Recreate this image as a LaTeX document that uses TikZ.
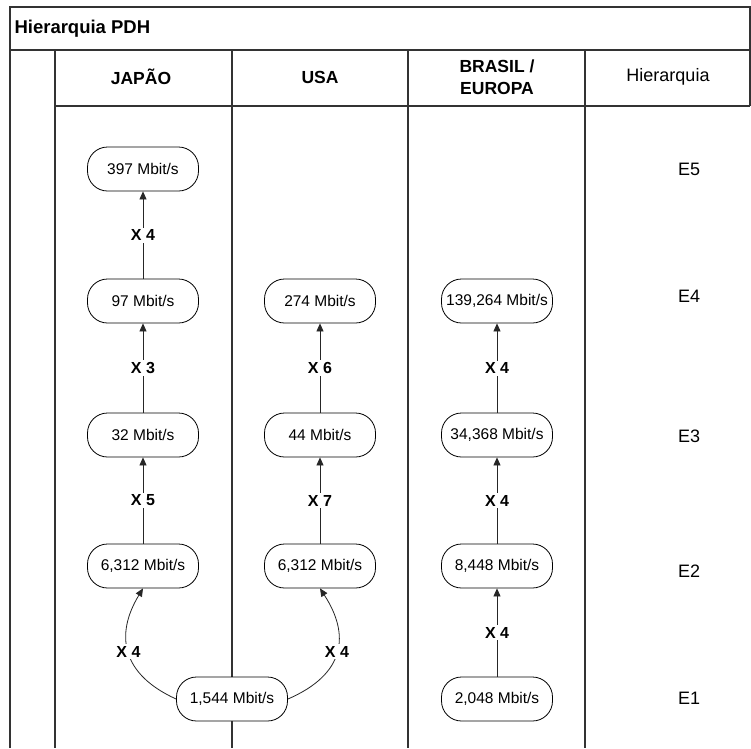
\documentclass[tikz,border=0pt]{standalone}
\usepackage{fontspec}
\setmainfont{Liberation Sans}
\usetikzlibrary{arrows.meta}

\begin{document}
\begin{tikzpicture}[x=1pt, y=-1pt,
    grid/.style={line width=1.4pt, draw=black!80},
    head/.style={font=\bfseries\fontsize{17.5}{22}\selectfont, align=center},
    rate/.style={draw, fill=white, line width=0.8pt, rounded corners=20pt, minimum width=111pt, minimum height=44pt, inner sep=0pt, font=\fontsize{15.5}{18}\selectfont},
    mult/.style={fill=white, inner sep=2pt, font=\bfseries\fontsize{16}{18}\selectfont},
    level/.style={font=\fontsize{18}{20}\selectfont},
    up/.style={-{Triangle[length=8pt, width=7pt]}, line width=0.8pt, draw=black!85}]
    \useasboundingbox (0,0) rectangle (751,748);
    \fill[white] (0,0) rectangle (751,748);
    \draw[grid] (10,748) -- (10,7) -- (750,7) -- (750,106);
    \draw[grid] (10,50) -- (750,50);
    \draw[grid] (55,106) -- (750,106);
    \foreach \x in {55,232,408,585} \draw[grid] (\x,50) -- (\x,748);
    \node[anchor=west, font=\bfseries\fontsize{18.5}{20}\selectfont] (title) at (11,29) {Hierarquia PDH};
    \node[head] (hjp) at (141,77) {JAPÃO};
    \node[head] (hus) at (320,77) {USA};
    \node[head] (hbr) at (497,77) {BRASIL /\\EUROPA};
    \node[level] (hh) at (668,77) {Hierarquia};
    \node[rate] (j5) at (143,169) {397 Mbit/s};
    \node[rate] (j4) at (143,301) {97 Mbit/s};
    \node[rate] (j3) at (143,435) {32 Mbit/s};
    \node[rate] (j2) at (143,566) {6,312 Mbit/s};
    \node[rate] (u4) at (320,301) {274 Mbit/s};
    \node[rate] (u3) at (320,435) {44 Mbit/s};
    \node[rate] (u2) at (320,566) {6,312 Mbit/s};
    \node[rate] (b4) at (497,301) {139,264 Mbit/s};
    \node[rate] (b3) at (497,435) {34,368 Mbit/s};
    \node[rate] (b2) at (497,566) {8,448 Mbit/s};
    \node[rate] (b1) at (497,699) {2,048 Mbit/s};
    \node[rate] (t1) at (232,699) {1,544 Mbit/s};
    \node[level] (e5) at (689,169) {E5};
    \node[level] (e4) at (689,296) {E4};
    \node[level] (e3) at (689,436) {E3};
    \node[level] (e2) at (689,571) {E2};
    \node[level] (e1) at (689,698) {E1};
    \draw[up] (j4) -- node[mult] {X 4} (j5);
    \draw[up] (j3) -- node[mult] {X 3} (j4);
    \draw[up] (j2) -- node[mult] {X 5} (j3);
    \draw[up] (u3) -- node[mult] {X 6} (u4);
    \draw[up] (u2) -- node[mult] {X 7} (u3);
    \draw[up] (b3) -- node[mult] {X 4} (b4);
    \draw[up] (b2) -- node[mult] {X 4} (b3);
    \draw[up] (b1) -- node[mult] {X 4} (b2);
    \draw[up] (t1.west) .. controls +(-55,-25) and +(-28,46) .. node[mult] {X 4} (j2.south);
    \draw[up] (t1.east) .. controls +(58,-25) and +(30,46) .. node[mult] {X 4} (u2.south);
\end{tikzpicture}
\end{document}
